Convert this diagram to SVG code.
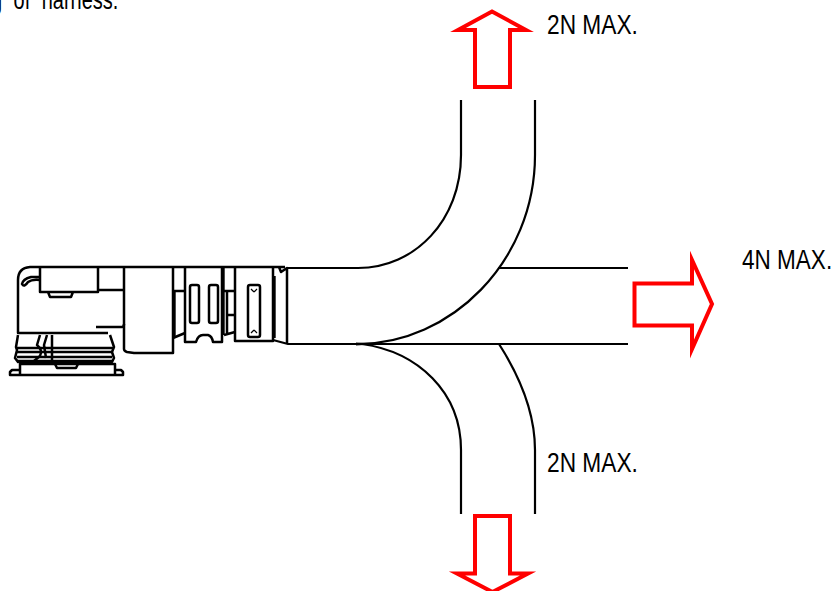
<svg xmlns="http://www.w3.org/2000/svg" width="835" height="591" viewBox="0 0 835 591">
<style>
.l{fill:none;stroke:#000;stroke-width:2.2;stroke-linejoin:round;stroke-linecap:butt}
.p{fill:none;stroke:#000;stroke-width:2.5;stroke-linejoin:round}
.t{fill:none;stroke:#000;stroke-width:3.4}
.a{fill:#fff;stroke:#f00;stroke-width:4;stroke-miterlimit:30}
text{font-family:"Liberation Sans",Arial,sans-serif;font-size:27px;fill:#000}
</style>
<rect width="835" height="591" fill="#fff"/>
<g id="caption"><text transform="translate(-9 9) scale(.74 1)" word-spacing="8">g of harness.</text></g>
<g id="connectors">
<path class="l" d="M461 100V155C461 220 415 268 358 268H287"/>
<path class="l" d="M535 100V155C535 262 450 344 358 344"/>
<path class="l" d="M498 268H628"/>
<path class="l" d="M273 340L288 344H628"/>
<path class="l" d="M362 344C418 352 461 392 461 450V514"/>
<path class="l" d="M499 344C522 380 535 415 535 450V514"/>
<path d="M356 343L372 344L356 345Z" fill="#000" stroke="#000"/>
</g>
<g id="plug">
<path class="p" d="M285 267H30Q18 268 18 280V333H108"/>
<path class="p" d="M40 268V292H98V268M98 290H124M48 292L50 297H71L73 292"/>
<path class="p" d="M40 277H31Q23 279 22 284Q24 288 28 282Q32 279 40 280"/>
<path class="p" d="M96 327H122Q124 327 124 324"/>
<path class="p" d="M124 267V349Q124 351 127 352L134 353H173V267"/>
<path class="p" d="M18 335L16 347L17 350L15 358L18 362H112L114 358L112 352L114 347L110 335"/>
<path class="p" d="M16 348H114M16 352H112M17 357H112M17 361H112"/>
<path class="p" d="M40 335L37 345Q43 350 40 356L34 361M47 335L44 345L46 358M52 335V362"/>
<path class="p" d="M20 364V375H115V364ZM20 370H12L10 372V375H20M115 370H121L123 372V375H115"/>
<path class="p" d="M55 364L57 368H76L78 364"/>
</g>
<g id="collar">
<path class="p" d="M173 291H185M173 338L185 333"/>
<path class="t" d="M174 291V337"/>
<path class="p" d="M185 267V342H196Q198 335 203 335H208Q212 336 213 342H222V267"/>
<path class="t" d="M223 267V335"/>
<rect class="p" x="190" y="285" width="9" height="38" rx="2"/>
<rect class="p" x="209" y="285" width="9" height="38" rx="2"/>
<path class="p" d="M224 291H235M227 291V333M228 315H235M224 335L235 332"/>
<path class="p" d="M235 267V341H273V267"/>
<rect class="p" x="248" y="285" width="12" height="52" rx="2"/>
<path class="l" d="M251 289L254 292M257 289L254 292M251 333L254 330M257 333L254 330" style="stroke-width:1.2"/>
<path class="t" d="M274 276V338"/>
<path class="p" d="M279 267L281 272L287 268V344"/>
</g>
<g id="arrow-up"><path class="a" d="M475 87V30H458L492 11.500L526 30H510V87Z"/></g>
<g id="arrow-right"><path class="a" d="M634.500 283.500H692V260L712 304L692 349V325.500H634.500Z"/></g>
<g id="arrow-down"><path class="a" d="M475 516V573.500H457L492.500 592L528 573.500H510V516Z"/></g>
<g id="labels">
<text transform="translate(547 33.500) scale(.842 1)">2N MAX.</text>
<text transform="translate(742 269) scale(.835 1)">4N MAX.</text>
<text transform="translate(547 472) scale(.842 1)">2N MAX.</text>
</g>
</svg>
